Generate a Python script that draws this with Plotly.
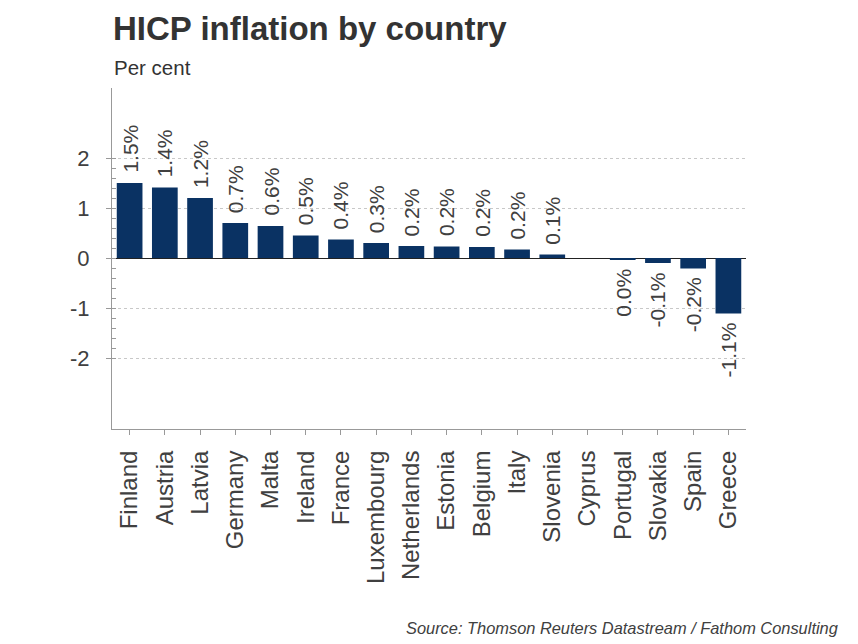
import plotly.graph_objects as go

countries = ["Finland", "Austria", "Latvia", "Germany", "Malta", "Ireland", "France",
             "Luxembourg", "Netherlands", "Estonia", "Belgium", "Italy", "Slovenia",
             "Cyprus", "Portugal", "Slovakia", "Spain", "Greece"]
values = [1.5, 1.41, 1.2, 0.7, 0.64, 0.45, 0.37, 0.3, 0.24, 0.23, 0.22, 0.17, 0.07,
          None, -0.04, -0.1, -0.21, -1.11]
y_ticks = [-2, -1, 0, 1, 2]
y_minor = [round(-2 + 0.2 * i, 1) for i in range(21)]

NAVY = "#0a3263"
GREY = "#404040"
FONT = "Liberation Sans, Arial, sans-serif"

W, H = 858, 644
ml, mr, mt, mb = 112, 112, 88, 215
pw, ph = W - ml - mr, H - mt - mb


def px(x):
    return (x - ml) / pw


def py(y):
    return (H - mb - y) / ph


def fmt(v):
    r = round(v, 1)
    if r == 0:
        r = 0.0
    return f"{r:.1f}%"


fig = go.Figure()
fig.add_trace(go.Bar(
    x=countries, y=values, marker=dict(color=NAVY, line=dict(width=0)),
    hoverinfo="x+y",
))

for c, v in zip(countries, values):
    if v is None:
        continue
    fig.add_annotation(
        x=c, y=v, xref="x", yref="y", text=fmt(v), showarrow=False,
        textangle=-90, font=dict(family=FONT, size=21, color=GREY),
        xanchor="center", yanchor="bottom" if v >= 0 else "top",
        yshift=8 if v >= 0 else -7,
    )

fig.add_annotation(text="<b>HICP inflation by country</b>", x=px(111), y=py(29),
                   xref="paper", yref="paper", xanchor="left", yanchor="middle",
                   showarrow=False, font=dict(family=FONT, size=33, color="#333333"))
fig.add_annotation(text="Per cent", x=px(112), y=py(67),
                   xref="paper", yref="paper", xanchor="left", yanchor="middle",
                   showarrow=False, font=dict(family=FONT, size=20.5, color="#333333"))
fig.add_annotation(text="<i>Source: Thomson Reuters Datastream / Fathom Consulting</i>",
                   x=px(840), y=py(628), xref="paper", yref="paper",
                   xanchor="right", yanchor="middle", showarrow=False,
                   font=dict(family=FONT, size=16.4, color="#404040"))

fig.update_layout(
    width=W, height=H,
    margin=dict(l=ml, r=mr, t=mt, b=mb, pad=0),
    paper_bgcolor="white", plot_bgcolor="white",
    showlegend=False, bargap=0.27,
    font=dict(family=FONT, color=GREY),
    xaxis=dict(
        tickangle=-90, tickfont=dict(size=24, color=GREY),
        showline=True, linecolor="#999999", linewidth=1, mirror=False,
        ticks="outside", ticklen=5, tickcolor="#999999",
        ticklabelstandoff=6,
        showgrid=False, zeroline=False, fixedrange=True,
    ),
    yaxis=dict(
        range=[-3.42, 3.4], tickmode="array", tickvals=y_ticks,
        ticktext=[str(t) for t in y_ticks],
        tickfont=dict(size=22, color=GREY),
        showline=True, linecolor="#999999", linewidth=1,
        ticks="outside", ticklen=5, tickcolor="#999999",
        showgrid=True, gridcolor="#c8c8c8", griddash="dot", gridwidth=1,
        zeroline=True, zerolinecolor="#222222", zerolinewidth=1,
        ticklabelstandoff=12,
        minor=dict(tickmode="array", tickvals=y_minor, ticks="inside",
                   ticklen=4, tickcolor="#999999", showgrid=False),
        fixedrange=True,
    ),
)

fig.write_html("out.html")
